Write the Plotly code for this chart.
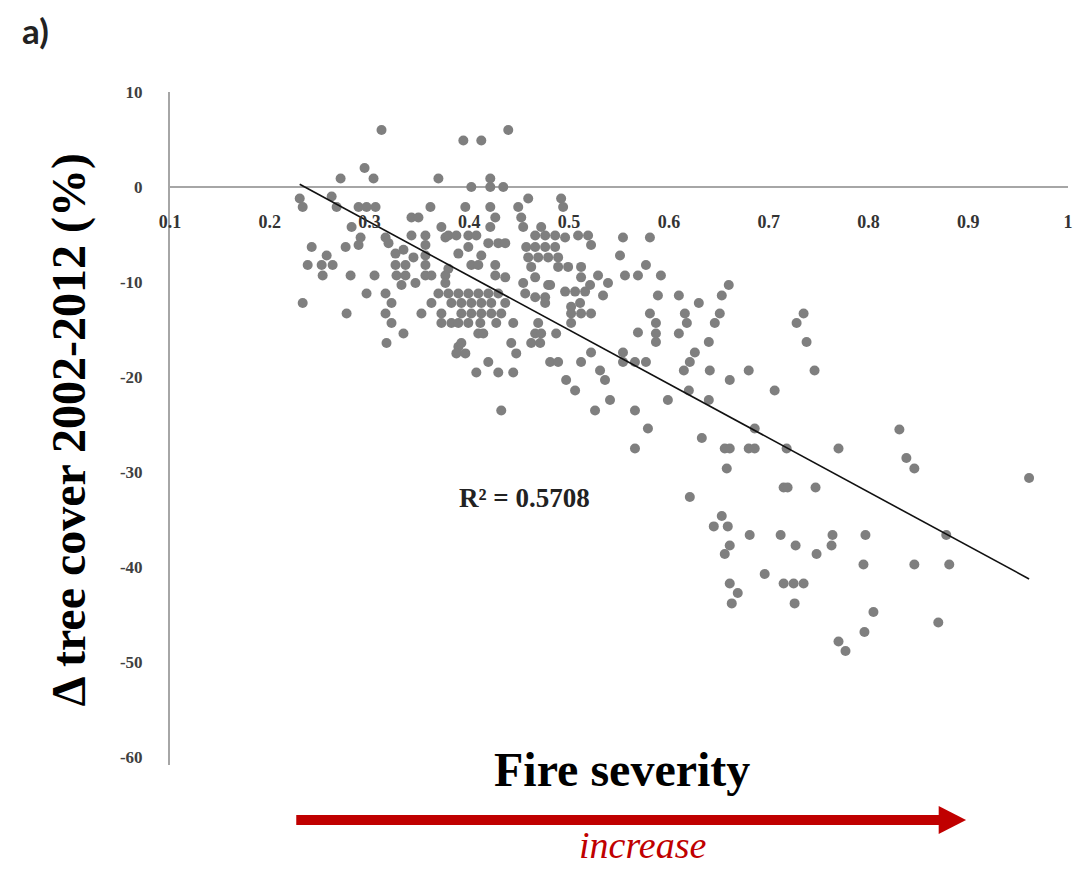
import plotly.graph_objects as go

# ---- data (fire severity vs change in tree cover) ----
severity = [
    0.312, 0.295, 0.304, 0.271, 0.369, 0.394, 0.412, 0.439, 0.421, 0.402, 0.421, 0.434,
    0.230, 0.233, 0.262, 0.267, 0.289, 0.297, 0.306, 0.282, 0.291, 0.289, 0.276, 0.242,
    0.257, 0.238, 0.252, 0.263, 0.253, 0.281, 0.305, 0.327, 0.336, 0.336, 0.319, 0.326,
    0.316, 0.326, 0.297, 0.233, 0.277, 0.316, 0.322, 0.316, 0.322, 0.334, 0.317, 0.342,
    0.349, 0.361, 0.342, 0.356, 0.356, 0.356, 0.356, 0.356, 0.362, 0.352, 0.362, 0.372,
    0.376, 0.376, 0.376, 0.372, 0.382, 0.372, 0.382, 0.389, 0.334, 0.344, 0.332, 0.346,
    0.459, 0.492, 0.396, 0.421, 0.449, 0.494, 0.426, 0.421, 0.452, 0.454, 0.472,
    0.379, 0.387, 0.399, 0.407, 0.466, 0.476, 0.486, 0.509, 0.519, 0.496,
    0.554, 0.581, 0.522, 0.419, 0.429, 0.436,
    0.379, 0.389, 0.402, 0.409, 0.426, 0.426, 0.436, 0.399, 0.412,
    0.457, 0.466, 0.476, 0.486, 0.459, 0.469, 0.479, 0.489, 0.462, 0.489, 0.499, 0.466,
    0.512, 0.512, 0.529, 0.539, 0.551, 0.577, 0.569, 0.556, 0.592,
    0.454, 0.479, 0.456, 0.466, 0.476, 0.496, 0.506, 0.516, 0.511, 0.502,
    0.369, 0.379, 0.389, 0.399, 0.409, 0.419, 0.429, 0.392, 0.402, 0.412, 0.422, 0.436,
    0.392, 0.402, 0.412, 0.422, 0.432, 0.389, 0.399, 0.411, 0.427, 0.444, 0.409, 0.414,
    0.392, 0.387, 0.396, 0.442, 0.447, 0.419, 0.407, 0.429, 0.444,
    0.469, 0.466, 0.472, 0.462, 0.471, 0.487, 0.502, 0.502, 0.512, 0.522, 0.476,
    0.481, 0.489, 0.512, 0.522, 0.497, 0.506, 0.432, 0.526,
    0.481, 0.521, 0.534,
    0.589, 0.610, 0.653, 0.660, 0.630, 0.581, 0.587, 0.587, 0.587, 0.616, 0.618, 0.610,
    0.651, 0.646, 0.569, 0.640, 0.735, 0.728, 0.738, 0.746,
    0.554, 0.554, 0.566, 0.577, 0.531, 0.536,
    0.626, 0.621, 0.615, 0.641, 0.661, 0.680,
    0.541, 0.566, 0.579, 0.599, 0.566,
    0.620, 0.640, 0.686, 0.718, 0.706, 0.633, 0.656, 0.661, 0.680, 0.686, 0.658, 0.621,
    0.715, 0.719, 0.747, 0.653, 0.645, 0.659, 0.681, 0.712, 0.770,
    0.831, 0.838, 0.846, 0.961, 0.727, 0.748, 0.764, 0.763, 0.797, 0.878, 0.661, 0.656,
    0.795, 0.846, 0.881, 0.696, 0.661, 0.669, 0.663, 0.715, 0.725, 0.735, 0.726, 0.805,
    0.870, 0.796, 0.770, 0.777,
]
tree_cover_change = [
    6.0, 2.0, 0.9, 0.9, 0.9, 4.9, 4.9, 6.0, 0.9, 0.0, 0.0, 0.0,
    -1.2, -2.1, -1.0, -2.1, -2.1, -2.1, -2.1, -4.2, -5.3, -6.1, -6.3, -6.3,
    -7.2, -8.2, -8.2, -8.2, -9.3, -9.3, -9.3, -9.3, -9.3, -8.2, -5.9, -7.0,
    -5.3, -8.2, -11.2, -12.2, -13.3, -11.2, -12.2, -13.3, -14.3, -15.4, -16.4, -3.2,
    -3.2, -2.1, -5.1, -5.1, -6.1, -7.2, -8.2, -9.3, -9.3, -13.3, -12.2, -4.2,
    -5.3, -9.3, -10.1, -13.3, -12.2, -14.3, -14.3, -16.8, -6.6, -7.4, -10.3, -10.1,
    -1.2, -1.2, -2.1, -2.1, -2.1, -2.1, -3.2, -4.2, -3.2, -4.2, -4.2,
    -5.1, -5.1, -5.1, -5.1, -5.1, -5.1, -5.1, -5.1, -5.1, -5.3,
    -5.3, -5.3, -6.1, -5.9, -5.9, -5.9,
    -8.6, -7.0, -8.2, -8.2, -8.2, -9.3, -9.5, -6.3, -7.2,
    -6.3, -6.3, -6.3, -6.3, -7.4, -7.4, -7.4, -7.4, -8.4, -8.4, -8.4, -9.5,
    -8.4, -9.5, -9.3, -10.1, -7.2, -8.2, -9.3, -9.3, -9.3,
    -10.1, -10.3, -11.2, -11.6, -11.6, -11.0, -11.0, -11.0, -12.2, -12.6,
    -11.2, -11.2, -11.2, -11.2, -11.2, -11.2, -11.2, -12.2, -12.2, -12.2, -12.2, -12.2,
    -13.3, -13.3, -13.3, -13.3, -13.3, -14.3, -14.3, -14.3, -14.3, -14.3, -15.4, -15.4,
    -16.4, -17.5, -17.5, -16.4, -17.5, -18.4, -19.5, -19.5, -19.5,
    -14.3, -15.4, -15.4, -16.4, -16.4, -15.4, -14.3, -13.3, -13.3, -13.3, -12.2,
    -18.4, -18.4, -18.4, -17.4, -20.3, -21.4, -23.5, -23.5,
    -10.3, -10.3, -11.4,
    -11.4, -11.4, -11.4, -10.3, -12.2, -13.3, -14.3, -15.4, -16.3, -13.3, -14.3, -15.4,
    -13.3, -14.3, -15.3, -16.3, -13.3, -14.3, -16.3, -19.3,
    -17.4, -18.4, -18.4, -18.4, -19.3, -20.3,
    -17.4, -18.4, -19.3, -19.3, -20.3, -19.3,
    -22.4, -23.5, -25.4, -22.4, -27.5,
    -21.4, -22.4, -25.4, -27.5, -21.4, -26.4, -27.5, -27.5, -27.5, -27.5, -29.6, -32.6,
    -31.6, -31.6, -31.6, -34.6, -35.7, -35.7, -36.6, -36.6, -27.5,
    -25.5, -28.5, -29.6, -30.6, -37.7, -38.6, -36.6, -37.7, -36.6, -36.6, -37.7, -38.6,
    -39.7, -39.7, -39.7, -40.7, -41.7, -42.7, -43.8, -41.7, -41.7, -41.7, -43.8, -44.7,
    -45.8, -46.8, -47.8, -48.8,
]

# linear trend shown in the reference
trend_slope = -56.8
trend_intercept = 13.36
trend_x = [0.23, 0.961]
trend_y = [trend_slope * v + trend_intercept for v in trend_x]
r2_label = "R² = 0.5708"

x_ticks = [0.1, 0.2, 0.3, 0.4, 0.5, 0.6, 0.7, 0.8, 0.9, 1.0]
x_tick_text = ["0.1", "0.2", "0.3", "0.4", "0.5", "0.6", "0.7", "0.8", "0.9", "1"]
y_ticks = [10, 0, -10, -20, -30, -40, -50, -60]
y_tick_text = ["10", "0", "-10", "-20", "-30", "-40", "-50", "-60"]

Y_MIN, Y_MAX = -60.8, 10

SERIF = "Liberation Serif, Times New Roman, serif"
AXIS_GRAY = "#a6a6a6"
RED = "#c00000"

fig = go.Figure()
fig.add_trace(go.Scatter(
    x=severity, y=tree_cover_change, mode="markers",
    marker=dict(size=10, color="#7f7f7f", line=dict(width=0)),
    showlegend=False, hoverinfo="x+y",
))
fig.add_trace(go.Scatter(
    x=trend_x, y=trend_y, mode="lines",
    line=dict(color="#111111", width=1.6),
    showlegend=False, hoverinfo="skip",
))

# arrow under the x title (paper coords)
fig.add_shape(type="rect", xref="paper", yref="paper",
              x0=0.1406, x1=0.8583, y0=-0.0892, y1=-0.0743,
              fillcolor=RED, line=dict(width=0))
fig.add_shape(type="path", xref="paper", yref="paper",
              path="M 0.856,-0.0609 L 0.8865,-0.0817 L 0.856,-0.1025 Z",
              fillcolor=RED, line=dict(width=0))

fig.add_annotation(text="a)", xref="paper", yref="paper", x=-0.15, y=1.092,
                   xanchor="center", yanchor="middle", showarrow=False,
                   font=dict(family="Lato, Open Sans, sans-serif", size=35,
                             color="#222222", weight="bold"))
fig.add_annotation(text="Δ tree cover 2002-2012 (%)", xref="paper", yref="paper",
                   x=-0.113, y=0.4978, textangle=-90, showarrow=False,
                   xanchor="center", yanchor="middle",
                   font=dict(family=SERIF, size=48, color="#000000", weight="bold"))
fig.add_annotation(text="Fire severity", xref="paper", yref="paper",
                   x=0.5028, y=-0.0074, showarrow=False,
                   xanchor="center", yanchor="middle",
                   font=dict(family=SERIF, size=48, color="#000000", weight="bold"))
fig.add_annotation(text="increase", xref="paper", yref="paper",
                   x=0.526, y=-0.1193, showarrow=False,
                   xanchor="center", yanchor="middle",
                   font=dict(family=SERIF, size=38, color=RED, style="italic"))
fig.add_annotation(text=r2_label, xref="x", yref="y", x=0.455, y=-32.7,
                   showarrow=False, xanchor="center", yanchor="middle",
                   font=dict(family=SERIF, size=27, color="#222222", weight="bold"))

# the page body adds an 8 px offset, so the figure is sized to fit the window
fig.update_layout(
    width=1073, height=861,
    margin=dict(l=162, r=8, t=84, b=104),
    paper_bgcolor="white", plot_bgcolor="white",
    xaxis=dict(
        range=[0.1, 1.0], tickvals=x_ticks, ticktext=x_tick_text,
        showgrid=False, zeroline=False, showline=False, ticks="",
        anchor="free", position=(0 - Y_MIN) / (Y_MAX - Y_MIN), ticklabelstandoff=22,
        tickfont=dict(family=SERIF, size=18, color="#333333", weight="bold"),
    ),
    yaxis=dict(
        range=[Y_MIN, Y_MAX], tickvals=y_ticks, ticktext=y_tick_text,
        showgrid=False, zeroline=True, zerolinecolor=AXIS_GRAY, zerolinewidth=2,
        showline=True, linecolor=AXIS_GRAY, linewidth=2, ticks="",
        ticklabelstandoff=22,
        tickfont=dict(family=SERIF, size=17, color="#404040", weight="bold"),
    ),
)

fig.write_html("out.html")
